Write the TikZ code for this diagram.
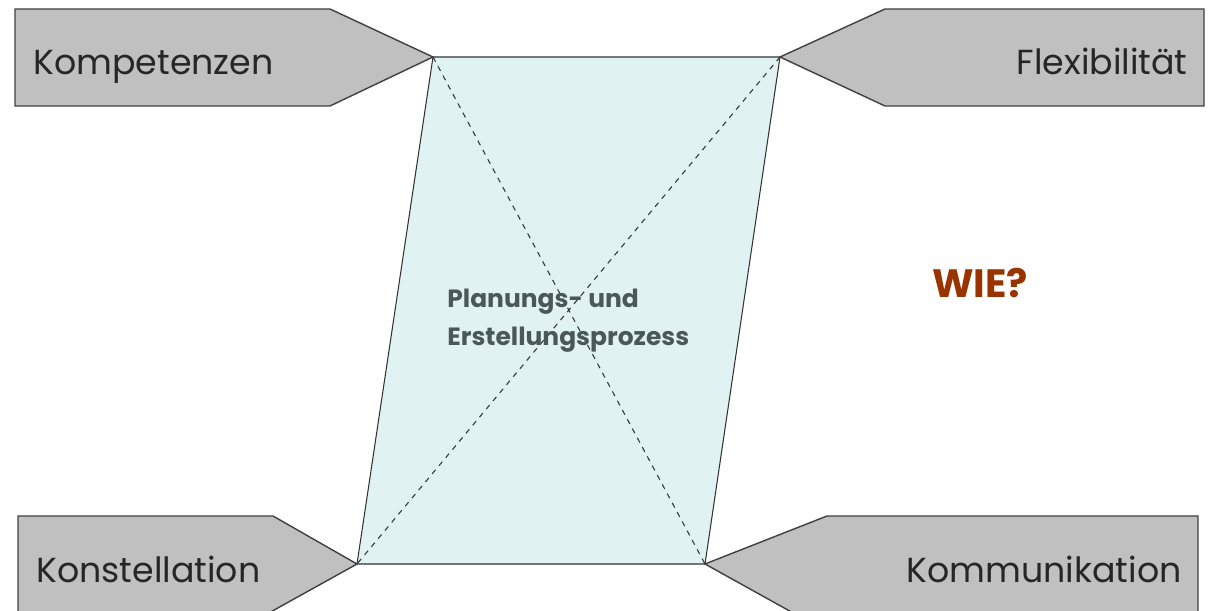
\documentclass[tikz,border=0pt]{standalone}
\usepackage{fontspec}
\setmainfont{Poppins}
\definecolor{tagfill}{HTML}{C0C0C0}
\definecolor{tagline}{HTML}{404040}
\definecolor{procfill}{HTML}{E1F2F2}
\definecolor{proctext}{HTML}{4A5858}
\definecolor{askcolor}{HTML}{993300}
\begin{document}
\begin{tikzpicture}[x=0.02cm, y=-0.02cm]

% Styles
\tikzstyle{tag}   = [fill=tagfill, draw=tagline, line width=0.8pt]
\tikzstyle{label} = [inner sep=0pt, font=\fontsize{19.8}{24}\selectfont, text=black!85]
\tikzstyle{proc}  = [fill=procfill, draw=black!80, line width=0.6pt]
\tikzstyle{diag}  = [draw=black!80, dashed, line width=0.6pt]

\useasboundingbox (0,0) rectangle (1211,611);
\clip (0,0) rectangle (1211,611);

% Corners of the process field
\coordinate (tl) at (433,57);
\coordinate (tr) at (780,57);
\coordinate (br) at (705,564);
\coordinate (bl) at (357,564);

% Process field
\draw [proc] (tl) -- (tr) -- (br) -- (bl) -- cycle;
\draw [diag] (tl) -- (br);
\draw [diag] (tr) -- (bl);

% Tags
\draw [tag] (15,9) -- (330,9) -- (tl) -- (330,106) -- (15,106) -- cycle;
\draw [tag] (1204,9) -- (885,9) -- (tr) -- (885,106) -- (1204,106) -- cycle;
\filldraw [tag] (18,614) -- (18,516) -- (273,516) -- (bl) -- (267,614);
\filldraw [tag] (1198,614) -- (1198,516) -- (827,516) -- (br) -- (795,614);

% Nodes
\node [label, anchor=base west] (komp) at (33,75) {Kompetenzen};
\node [label, anchor=base east] (flex) at (1188,75) {Flexibilität};
\node [label, anchor=base west] (konst) at (36,582) {Konstellation};
\node [label, anchor=base east] (komm) at (1182,582) {Kommunikation};
\node [inner sep=0pt, anchor=base west, align=left, text=proctext,
       font=\fontsize{14.2}{22}\selectfont\bfseries] (proz) at (447,346)
      {Planungs- und\\Erstellungsprozess};
\node [inner sep=0pt, anchor=base west, text=askcolor,
       font=\fontsize{22.5}{26}\selectfont\bfseries] (wie) at (932,297) {WIE?};

\end{tikzpicture}
\end{document}
